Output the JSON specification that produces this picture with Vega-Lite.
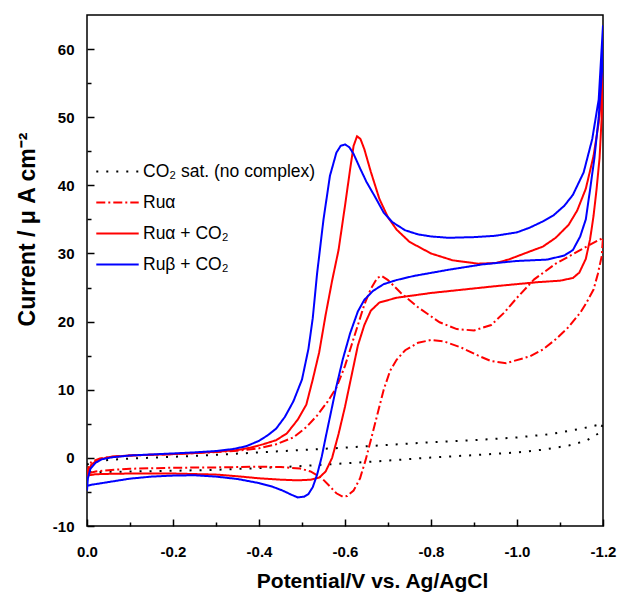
{
  "$schema": "https://vega.github.io/schema/vega-lite/v6.json",
  "width": 516,
  "height": 511,
  "autosize": {"type": "none"},
  "padding": {"left": 87, "top": 15, "right": 16, "bottom": 67},
  "background": "white",
  "config": {
    "view": {"stroke": "black", "strokeWidth": 1.5},
    "font": "Liberation Sans",
    "axis": {
      "domain": false,
      "grid": false,
      "ticks": true,
      "tickColor": "black",
      "tickWidth": 1.5,
      "labelFont": "Liberation Sans",
      "labelFontWeight": "bold",
      "labelFontSize": 15,
      "labelColor": "black",
      "titleFont": "Liberation Sans",
      "titleFontWeight": "bold",
      "titleColor": "black"
    }
  },
  "resolve": {"axis": {"x": "independent", "y": "independent"}},
  "datasets": {
    "cv": [
      {"series": "CO₂ sat. (no complex)", "potential": 0, "current": -1.0},
      {"series": "CO₂ sat. (no complex)", "potential": -0.01, "current": -0.6},
      {"series": "CO₂ sat. (no complex)", "potential": -0.05, "current": -0.3},
      {"series": "CO₂ sat. (no complex)", "potential": -0.1, "current": -0.1},
      {"series": "CO₂ sat. (no complex)", "potential": -0.2, "current": 0.15},
      {"series": "CO₂ sat. (no complex)", "potential": -0.3, "current": 0.45},
      {"series": "CO₂ sat. (no complex)", "potential": -0.4, "current": 0.8},
      {"series": "CO₂ sat. (no complex)", "potential": -0.5, "current": 1.15},
      {"series": "CO₂ sat. (no complex)", "potential": -0.6, "current": 1.5},
      {"series": "CO₂ sat. (no complex)", "potential": -0.7, "current": 1.9},
      {"series": "CO₂ sat. (no complex)", "potential": -0.8, "current": 2.3},
      {"series": "CO₂ sat. (no complex)", "potential": -0.9, "current": 2.6},
      {"series": "CO₂ sat. (no complex)", "potential": -1.0, "current": 3.0},
      {"series": "CO₂ sat. (no complex)", "potential": -1.08, "current": 3.5},
      {"series": "CO₂ sat. (no complex)", "potential": -1.15, "current": 4.3},
      {"series": "CO₂ sat. (no complex)", "potential": -1.2, "current": 5.0},
      {"series": "CO₂ sat. (no complex)", "potential": -1.19, "current": 3.6},
      {"series": "CO₂ sat. (no complex)", "potential": -1.16, "current": 2.5},
      {"series": "CO₂ sat. (no complex)", "potential": -1.12, "current": 1.8},
      {"series": "CO₂ sat. (no complex)", "potential": -1.06, "current": 1.2},
      {"series": "CO₂ sat. (no complex)", "potential": -1.0, "current": 0.8},
      {"series": "CO₂ sat. (no complex)", "potential": -0.9, "current": 0.4},
      {"series": "CO₂ sat. (no complex)", "potential": -0.8, "current": 0.05},
      {"series": "CO₂ sat. (no complex)", "potential": -0.7, "current": -0.4},
      {"series": "CO₂ sat. (no complex)", "potential": -0.6, "current": -0.8},
      {"series": "CO₂ sat. (no complex)", "potential": -0.5, "current": -1.2},
      {"series": "CO₂ sat. (no complex)", "potential": -0.4, "current": -1.5},
      {"series": "CO₂ sat. (no complex)", "potential": -0.3, "current": -1.75},
      {"series": "CO₂ sat. (no complex)", "potential": -0.2, "current": -1.9},
      {"series": "CO₂ sat. (no complex)", "potential": -0.1, "current": -2.0},
      {"series": "CO₂ sat. (no complex)", "potential": 0, "current": -2.1},

      {"series": "Ruα", "potential": 0, "current": -2.5},
      {"series": "Ruα", "potential": -0.003, "current": -1.5},
      {"series": "Ruα", "potential": -0.01, "current": -0.6},
      {"series": "Ruα", "potential": -0.03, "current": -0.1},
      {"series": "Ruα", "potential": -0.06, "current": 0.2},
      {"series": "Ruα", "potential": -0.1, "current": 0.35},
      {"series": "Ruα", "potential": -0.15, "current": 0.45},
      {"series": "Ruα", "potential": -0.2, "current": 0.55},
      {"series": "Ruα", "potential": -0.25, "current": 0.7},
      {"series": "Ruα", "potential": -0.3, "current": 0.85},
      {"series": "Ruα", "potential": -0.35, "current": 1.05},
      {"series": "Ruα", "potential": -0.4, "current": 1.4},
      {"series": "Ruα", "potential": -0.44, "current": 2.0},
      {"series": "Ruα", "potential": -0.48, "current": 3.0},
      {"series": "Ruα", "potential": -0.51, "current": 4.5},
      {"series": "Ruα", "potential": -0.535, "current": 6.2},
      {"series": "Ruα", "potential": -0.56, "current": 8.3},
      {"series": "Ruα", "potential": -0.58, "current": 10.3},
      {"series": "Ruα", "potential": -0.6, "current": 13.5},
      {"series": "Ruα", "potential": -0.615, "current": 16.5},
      {"series": "Ruα", "potential": -0.63, "current": 19.5},
      {"series": "Ruα", "potential": -0.645, "current": 22.5},
      {"series": "Ruα", "potential": -0.66, "current": 24.8},
      {"series": "Ruα", "potential": -0.675, "current": 26.4},
      {"series": "Ruα", "potential": -0.685, "current": 26.7},
      {"series": "Ruα", "potential": -0.7, "current": 26.1},
      {"series": "Ruα", "potential": -0.73, "current": 24.2},
      {"series": "Ruα", "potential": -0.77, "current": 22.1},
      {"series": "Ruα", "potential": -0.82, "current": 19.9},
      {"series": "Ruα", "potential": -0.86, "current": 18.9},
      {"series": "Ruα", "potential": -0.9, "current": 18.7},
      {"series": "Ruα", "potential": -0.94, "current": 19.5},
      {"series": "Ruα", "potential": -0.97, "current": 21.3},
      {"series": "Ruα", "potential": -1.0, "current": 23.5},
      {"series": "Ruα", "potential": -1.04, "current": 26.2},
      {"series": "Ruα", "potential": -1.09, "current": 28.5},
      {"series": "Ruα", "potential": -1.15, "current": 30.6},
      {"series": "Ruα", "potential": -1.2, "current": 32.3},
      {"series": "Ruα", "potential": -1.197, "current": 29.6},
      {"series": "Ruα", "potential": -1.188, "current": 27.0},
      {"series": "Ruα", "potential": -1.178, "current": 24.7},
      {"series": "Ruα", "potential": -1.16, "current": 22.6},
      {"series": "Ruα", "potential": -1.147, "current": 21.3},
      {"series": "Ruα", "potential": -1.12, "current": 19.2},
      {"series": "Ruα", "potential": -1.09, "current": 17.4},
      {"series": "Ruα", "potential": -1.06, "current": 15.9},
      {"series": "Ruα", "potential": -1.03, "current": 14.9},
      {"series": "Ruα", "potential": -0.975, "current": 13.9},
      {"series": "Ruα", "potential": -0.94, "current": 14.2},
      {"series": "Ruα", "potential": -0.91, "current": 15.0},
      {"series": "Ruα", "potential": -0.87, "current": 16.2},
      {"series": "Ruα", "potential": -0.83, "current": 17.1},
      {"series": "Ruα", "potential": -0.8, "current": 17.3},
      {"series": "Ruα", "potential": -0.77, "current": 16.9},
      {"series": "Ruα", "potential": -0.74, "current": 15.8},
      {"series": "Ruα", "potential": -0.72, "current": 14.4},
      {"series": "Ruα", "potential": -0.705, "current": 12.8},
      {"series": "Ruα", "potential": -0.69, "current": 10.0},
      {"series": "Ruα", "potential": -0.675, "current": 6.3},
      {"series": "Ruα", "potential": -0.66, "current": 2.6},
      {"series": "Ruα", "potential": -0.648, "current": -0.3},
      {"series": "Ruα", "potential": -0.635, "current": -3.0},
      {"series": "Ruα", "potential": -0.62, "current": -4.8},
      {"series": "Ruα", "potential": -0.605, "current": -5.6},
      {"series": "Ruα", "potential": -0.595, "current": -5.7},
      {"series": "Ruα", "potential": -0.58, "current": -5.2},
      {"series": "Ruα", "potential": -0.565, "current": -4.2},
      {"series": "Ruα", "potential": -0.545, "current": -2.9},
      {"series": "Ruα", "potential": -0.52, "current": -2.0},
      {"series": "Ruα", "potential": -0.495, "current": -1.55},
      {"series": "Ruα", "potential": -0.45, "current": -1.35},
      {"series": "Ruα", "potential": -0.4, "current": -1.3},
      {"series": "Ruα", "potential": -0.35, "current": -1.35},
      {"series": "Ruα", "potential": -0.3, "current": -1.4},
      {"series": "Ruα", "potential": -0.2, "current": -1.45},
      {"series": "Ruα", "potential": -0.1, "current": -1.6},
      {"series": "Ruα", "potential": -0.05, "current": -1.8},
      {"series": "Ruα", "potential": -0.02, "current": -2.0},
      {"series": "Ruα", "potential": 0, "current": -2.3},

      {"series": "Ruα + CO₂", "potential": 0, "current": -3.5},
      {"series": "Ruα + CO₂", "potential": -0.002, "current": -2.2},
      {"series": "Ruα + CO₂", "potential": -0.01, "current": -1.0},
      {"series": "Ruα + CO₂", "potential": -0.025, "current": -0.3},
      {"series": "Ruα + CO₂", "potential": -0.05, "current": 0.1},
      {"series": "Ruα + CO₂", "potential": -0.1, "current": 0.35},
      {"series": "Ruα + CO₂", "potential": -0.15, "current": 0.45},
      {"series": "Ruα + CO₂", "potential": -0.2, "current": 0.55},
      {"series": "Ruα + CO₂", "potential": -0.25, "current": 0.7},
      {"series": "Ruα + CO₂", "potential": -0.3, "current": 0.9},
      {"series": "Ruα + CO₂", "potential": -0.35, "current": 1.15},
      {"series": "Ruα + CO₂", "potential": -0.38, "current": 1.5},
      {"series": "Ruα + CO₂", "potential": -0.41, "current": 2.0},
      {"series": "Ruα + CO₂", "potential": -0.44, "current": 2.6},
      {"series": "Ruα + CO₂", "potential": -0.465, "current": 3.6},
      {"series": "Ruα + CO₂", "potential": -0.49, "current": 5.6},
      {"series": "Ruα + CO₂", "potential": -0.51, "current": 7.8},
      {"series": "Ruα + CO₂", "potential": -0.525, "current": 11.5},
      {"series": "Ruα + CO₂", "potential": -0.54, "current": 15.5},
      {"series": "Ruα + CO₂", "potential": -0.555, "current": 21.0},
      {"series": "Ruα + CO₂", "potential": -0.57, "current": 26.0},
      {"series": "Ruα + CO₂", "potential": -0.585, "current": 30.5},
      {"series": "Ruα + CO₂", "potential": -0.6, "current": 37.0},
      {"series": "Ruα + CO₂", "potential": -0.612, "current": 42.4},
      {"series": "Ruα + CO₂", "potential": -0.62, "current": 45.8},
      {"series": "Ruα + CO₂", "potential": -0.628, "current": 47.2},
      {"series": "Ruα + CO₂", "potential": -0.636, "current": 46.8},
      {"series": "Ruα + CO₂", "potential": -0.645, "current": 45.3},
      {"series": "Ruα + CO₂", "potential": -0.66, "current": 42.0},
      {"series": "Ruα + CO₂", "potential": -0.68, "current": 38.0},
      {"series": "Ruα + CO₂", "potential": -0.7, "current": 35.3},
      {"series": "Ruα + CO₂", "potential": -0.72, "current": 33.5},
      {"series": "Ruα + CO₂", "potential": -0.75, "current": 31.7},
      {"series": "Ruα + CO₂", "potential": -0.8, "current": 30.0},
      {"series": "Ruα + CO₂", "potential": -0.85, "current": 29.0},
      {"series": "Ruα + CO₂", "potential": -0.91, "current": 28.5},
      {"series": "Ruα + CO₂", "potential": -0.95, "current": 28.6},
      {"series": "Ruα + CO₂", "potential": -0.98, "current": 29.1},
      {"series": "Ruα + CO₂", "potential": -1.03, "current": 30.3},
      {"series": "Ruα + CO₂", "potential": -1.06, "current": 31.0},
      {"series": "Ruα + CO₂", "potential": -1.09, "current": 32.3},
      {"series": "Ruα + CO₂", "potential": -1.12, "current": 34.2},
      {"series": "Ruα + CO₂", "potential": -1.14, "current": 36.3},
      {"series": "Ruα + CO₂", "potential": -1.16, "current": 39.5},
      {"series": "Ruα + CO₂", "potential": -1.178, "current": 44.3},
      {"series": "Ruα + CO₂", "potential": -1.19, "current": 49.2},
      {"series": "Ruα + CO₂", "potential": -1.197, "current": 54.0},
      {"series": "Ruα + CO₂", "potential": -1.2, "current": 57.0},
      {"series": "Ruα + CO₂", "potential": -1.197, "current": 50.0},
      {"series": "Ruα + CO₂", "potential": -1.192, "current": 44.0},
      {"series": "Ruα + CO₂", "potential": -1.185, "current": 39.4},
      {"series": "Ruα + CO₂", "potential": -1.178, "current": 35.5},
      {"series": "Ruα + CO₂", "potential": -1.17, "current": 32.1},
      {"series": "Ruα + CO₂", "potential": -1.16, "current": 29.2},
      {"series": "Ruα + CO₂", "potential": -1.145, "current": 27.2},
      {"series": "Ruα + CO₂", "potential": -1.13, "current": 26.4},
      {"series": "Ruα + CO₂", "potential": -1.1, "current": 26.0},
      {"series": "Ruα + CO₂", "potential": -1.05, "current": 25.8},
      {"series": "Ruα + CO₂", "potential": -1.0, "current": 25.5},
      {"series": "Ruα + CO₂", "potential": -0.95, "current": 25.2},
      {"series": "Ruα + CO₂", "potential": -0.875, "current": 24.7},
      {"series": "Ruα + CO₂", "potential": -0.8, "current": 24.2},
      {"series": "Ruα + CO₂", "potential": -0.72, "current": 23.5},
      {"series": "Ruα + CO₂", "potential": -0.68, "current": 22.8},
      {"series": "Ruα + CO₂", "potential": -0.66, "current": 21.6},
      {"series": "Ruα + CO₂", "potential": -0.645, "current": 19.5},
      {"series": "Ruα + CO₂", "potential": -0.63, "current": 16.5},
      {"series": "Ruα + CO₂", "potential": -0.615, "current": 12.0},
      {"series": "Ruα + CO₂", "potential": -0.6, "current": 7.5},
      {"series": "Ruα + CO₂", "potential": -0.585, "current": 3.5},
      {"series": "Ruα + CO₂", "potential": -0.57, "current": 0.0},
      {"series": "Ruα + CO₂", "potential": -0.555, "current": -2.0},
      {"series": "Ruα + CO₂", "potential": -0.54, "current": -2.9},
      {"series": "Ruα + CO₂", "potential": -0.52, "current": -3.2},
      {"series": "Ruα + CO₂", "potential": -0.49, "current": -3.3},
      {"series": "Ruα + CO₂", "potential": -0.45, "current": -3.2},
      {"series": "Ruα + CO₂", "potential": -0.4, "current": -3.0},
      {"series": "Ruα + CO₂", "potential": -0.35, "current": -2.7},
      {"series": "Ruα + CO₂", "potential": -0.3, "current": -2.45},
      {"series": "Ruα + CO₂", "potential": -0.2, "current": -2.3},
      {"series": "Ruα + CO₂", "potential": -0.1, "current": -2.3},
      {"series": "Ruα + CO₂", "potential": -0.05, "current": -2.35},
      {"series": "Ruα + CO₂", "potential": -0.02, "current": -2.4},
      {"series": "Ruα + CO₂", "potential": 0, "current": -2.6},

      {"series": "Ruβ + CO₂", "potential": 0, "current": -4.8},
      {"series": "Ruβ + CO₂", "potential": -0.002, "current": -3.0},
      {"series": "Ruβ + CO₂", "potential": -0.008, "current": -1.6},
      {"series": "Ruβ + CO₂", "potential": -0.02, "current": -0.7},
      {"series": "Ruβ + CO₂", "potential": -0.035, "current": -0.2},
      {"series": "Ruβ + CO₂", "potential": -0.06, "current": 0.1},
      {"series": "Ruβ + CO₂", "potential": -0.1, "current": 0.35},
      {"series": "Ruβ + CO₂", "potential": -0.15, "current": 0.5},
      {"series": "Ruβ + CO₂", "potential": -0.2, "current": 0.65},
      {"series": "Ruβ + CO₂", "potential": -0.25, "current": 0.8},
      {"series": "Ruβ + CO₂", "potential": -0.3, "current": 1.0},
      {"series": "Ruβ + CO₂", "potential": -0.34, "current": 1.3},
      {"series": "Ruβ + CO₂", "potential": -0.37, "current": 1.7},
      {"series": "Ruβ + CO₂", "potential": -0.4, "current": 2.5},
      {"series": "Ruβ + CO₂", "potential": -0.42, "current": 3.3},
      {"series": "Ruβ + CO₂", "potential": -0.44, "current": 4.3},
      {"series": "Ruβ + CO₂", "potential": -0.46, "current": 6.0},
      {"series": "Ruβ + CO₂", "potential": -0.48, "current": 8.3},
      {"series": "Ruβ + CO₂", "potential": -0.5, "current": 11.5},
      {"series": "Ruβ + CO₂", "potential": -0.515, "current": 16.0},
      {"series": "Ruβ + CO₂", "potential": -0.525, "current": 20.5},
      {"series": "Ruβ + CO₂", "potential": -0.535, "current": 27.0},
      {"series": "Ruβ + CO₂", "potential": -0.55, "current": 35.0},
      {"series": "Ruβ + CO₂", "potential": -0.565, "current": 41.4},
      {"series": "Ruβ + CO₂", "potential": -0.58, "current": 44.8},
      {"series": "Ruβ + CO₂", "potential": -0.59, "current": 45.8},
      {"series": "Ruβ + CO₂", "potential": -0.6, "current": 46.0},
      {"series": "Ruβ + CO₂", "potential": -0.61, "current": 45.6},
      {"series": "Ruβ + CO₂", "potential": -0.62, "current": 44.6},
      {"series": "Ruβ + CO₂", "potential": -0.635, "current": 42.5},
      {"series": "Ruβ + CO₂", "potential": -0.65, "current": 40.5},
      {"series": "Ruβ + CO₂", "potential": -0.67, "current": 38.3},
      {"series": "Ruβ + CO₂", "potential": -0.69, "current": 36.0},
      {"series": "Ruβ + CO₂", "potential": -0.71, "current": 34.6},
      {"series": "Ruβ + CO₂", "potential": -0.74, "current": 33.4},
      {"series": "Ruβ + CO₂", "potential": -0.77, "current": 32.8},
      {"series": "Ruβ + CO₂", "potential": -0.8, "current": 32.5},
      {"series": "Ruβ + CO₂", "potential": -0.84, "current": 32.3},
      {"series": "Ruβ + CO₂", "potential": -0.9, "current": 32.4},
      {"series": "Ruβ + CO₂", "potential": -0.95, "current": 32.6},
      {"series": "Ruβ + CO₂", "potential": -1.0, "current": 33.1},
      {"series": "Ruβ + CO₂", "potential": -1.03, "current": 33.8},
      {"series": "Ruβ + CO₂", "potential": -1.06, "current": 34.7},
      {"series": "Ruβ + CO₂", "potential": -1.085, "current": 35.6},
      {"series": "Ruβ + CO₂", "potential": -1.11, "current": 37.0},
      {"series": "Ruβ + CO₂", "potential": -1.13, "current": 38.6},
      {"series": "Ruβ + CO₂", "potential": -1.155, "current": 41.9},
      {"series": "Ruβ + CO₂", "potential": -1.175, "current": 46.8},
      {"series": "Ruβ + CO₂", "potential": -1.19, "current": 52.6},
      {"series": "Ruβ + CO₂", "potential": -1.2, "current": 63.5},
      {"series": "Ruβ + CO₂", "potential": -1.198, "current": 57.0},
      {"series": "Ruβ + CO₂", "potential": -1.19, "current": 50.0},
      {"series": "Ruβ + CO₂", "potential": -1.18, "current": 44.0},
      {"series": "Ruβ + CO₂", "potential": -1.17, "current": 39.4},
      {"series": "Ruβ + CO₂", "potential": -1.16, "current": 35.0},
      {"series": "Ruβ + CO₂", "potential": -1.147, "current": 32.5},
      {"series": "Ruβ + CO₂", "potential": -1.13, "current": 30.5},
      {"series": "Ruβ + CO₂", "potential": -1.11, "current": 29.7},
      {"series": "Ruβ + CO₂", "potential": -1.07, "current": 29.1},
      {"series": "Ruβ + CO₂", "potential": -1.0, "current": 28.9},
      {"series": "Ruβ + CO₂", "potential": -0.92, "current": 28.4},
      {"series": "Ruβ + CO₂", "potential": -0.84, "current": 27.6},
      {"series": "Ruβ + CO₂", "potential": -0.76, "current": 26.7},
      {"series": "Ruβ + CO₂", "potential": -0.72, "current": 26.1},
      {"series": "Ruβ + CO₂", "potential": -0.69, "current": 25.5},
      {"series": "Ruβ + CO₂", "potential": -0.665, "current": 24.5},
      {"series": "Ruβ + CO₂", "potential": -0.645, "current": 23.2},
      {"series": "Ruβ + CO₂", "potential": -0.63, "current": 21.5},
      {"series": "Ruβ + CO₂", "potential": -0.612, "current": 18.3},
      {"series": "Ruβ + CO₂", "potential": -0.595, "current": 14.5},
      {"series": "Ruβ + CO₂", "potential": -0.58, "current": 10.5},
      {"series": "Ruβ + CO₂", "potential": -0.565, "current": 6.0},
      {"series": "Ruβ + CO₂", "potential": -0.555, "current": 3.0},
      {"series": "Ruβ + CO₂", "potential": -0.546, "current": 0.2},
      {"series": "Ruβ + CO₂", "potential": -0.535, "current": -2.5},
      {"series": "Ruβ + CO₂", "potential": -0.525, "current": -4.3},
      {"series": "Ruβ + CO₂", "potential": -0.515, "current": -5.3},
      {"series": "Ruβ + CO₂", "potential": -0.505, "current": -5.7},
      {"series": "Ruβ + CO₂", "potential": -0.49, "current": -5.8},
      {"series": "Ruβ + CO₂", "potential": -0.475, "current": -5.4},
      {"series": "Ruβ + CO₂", "potential": -0.455, "current": -4.8},
      {"series": "Ruβ + CO₂", "potential": -0.43, "current": -4.2},
      {"series": "Ruβ + CO₂", "potential": -0.4, "current": -3.7},
      {"series": "Ruβ + CO₂", "potential": -0.35, "current": -3.1},
      {"series": "Ruβ + CO₂", "potential": -0.3, "current": -2.75},
      {"series": "Ruβ + CO₂", "potential": -0.25, "current": -2.55},
      {"series": "Ruβ + CO₂", "potential": -0.2, "current": -2.6},
      {"series": "Ruβ + CO₂", "potential": -0.15, "current": -2.75},
      {"series": "Ruβ + CO₂", "potential": -0.1, "current": -3.05},
      {"series": "Ruβ + CO₂", "potential": -0.06, "current": -3.45},
      {"series": "Ruβ + CO₂", "potential": -0.03, "current": -3.75},
      {"series": "Ruβ + CO₂", "potential": -0.01, "current": -3.95},
      {"series": "Ruβ + CO₂", "potential": 0, "current": -4.1}
    ]
  },
  "layer": [
    {
      "mark": {"type": "rule", "color": "black", "strokeWidth": 1.5},
      "encoding": {
        "x": {
          "datum": 0,
          "type": "quantitative",
          "scale": {"domain": [-1.2, 0], "reverse": true, "nice": false, "zero": false},
          "axis": {
            "orient": "bottom",
            "values": [-0.1, -0.3, -0.5, -0.7, -0.9, -1.1],
            "labels": false,
            "title": null,
            "offset": -4,
            "tickSize": 4
          }
        },
        "x2": {"datum": -1.2},
        "y": {
          "datum": 0,
          "type": "quantitative",
          "scale": {"domain": [-10, 65], "nice": false, "zero": false},
          "axis": {
            "orient": "left",
            "values": [-5, 5, 15, 25, 35, 45, 55],
            "labels": false,
            "title": null,
            "offset": -4,
            "tickSize": 4
          }
        }
      }
    },
    {
      "data": {"name": "cv"},
      "mark": {"type": "line", "strokeWidth": 2, "clip": true},
      "encoding": {
        "x": {
          "field": "potential",
          "type": "quantitative",
          "scale": {"domain": [-1.2, 0], "reverse": true, "nice": false, "zero": false},
          "axis": {
            "orient": "bottom",
            "values": [0, -0.2, -0.4, -0.6, -0.8, -1.0, -1.2],
            "labelExpr": "replace(format(datum.value,'.1f'),'−','-')",
            "offset": -7,
            "tickSize": 7,
            "labelPadding": 18,
            "labelFlush": false,
            "title": "Potential/V vs. Ag/AgCl",
            "titleFontSize": 21,
            "titleX": 285,
            "titleY": 68,
            "titleAnchor": null,
            "titleAlign": "center",
            "titleBaseline": "alphabetic"
          }
        },
        "y": {
          "field": "current",
          "type": "quantitative",
          "scale": {"domain": [-10, 65], "nice": false, "zero": false},
          "axis": {
            "orient": "left",
            "values": [-10, 0, 10, 20, 30, 40, 50, 60],
            "labelExpr": "replace(format(datum.value,'d'),'−','-')",
            "offset": -7,
            "tickSize": 7,
            "labelPadding": 13,
            "labelFlush": false,
            "title": "Current / μ A cm⁻²",
            "titleFontSize": 23,
            "titleAngle": -90,
            "titleX": -60,
            "titleY": 214,
            "titleAlign": "center",
            "titleBaseline": "alphabetic"
          }
        },
        "color": {
          "field": "series",
          "type": "nominal",
          "scale": {
            "domain": ["CO₂ sat. (no complex)", "Ruα", "Ruα + CO₂", "Ruβ + CO₂"],
            "range": ["black", "#ff0000", "#ff0000", "#0000ff"]
          },
          "legend": {
            "title": null,
            "orient": "none",
            "legendX": 8,
            "legendY": 134,
            "symbolType": "stroke",
            "symbolSize": 1800,
            "symbolStrokeWidth": 2,
            "labelFont": "Liberation Sans",
            "labelFontSize": 17.5,
            "labelColor": "black",
            "labelLimit": 400,
            "labelOffset": 3,
            "rowPadding": -4,
            "padding": 0
          }
        },
        "strokeDash": {
          "field": "series",
          "type": "nominal",
          "scale": {
            "domain": ["CO₂ sat. (no complex)", "Ruα", "Ruα + CO₂", "Ruβ + CO₂"],
            "range": [[2, 8], [9, 3, 2, 3], [1, 0], [1, 0]]
          }
        },
        "order": {"value": null}
      }
    }
  ]
}
